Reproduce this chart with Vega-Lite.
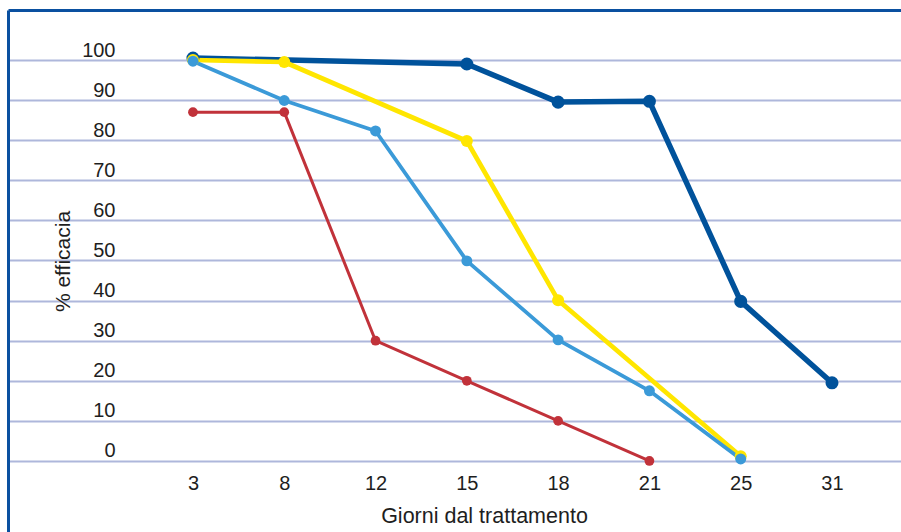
{
  "$schema": "https://vega.github.io/schema/vega-lite/v6.json",
  "width": 893,
  "height": 522,
  "autosize": {"type": "none"},
  "padding": {"left": 8, "top": 10, "right": 0, "bottom": 0},
  "background": "white",
  "config": {
    "view": {"stroke": null},
    "font": "Liberation Sans"
  },
  "data": {
    "values": [
      {"serie": "S1", "giorni": "3", "efficacia": 100.5},
      {"serie": "S1", "giorni": "15", "efficacia": 99},
      {"serie": "S1", "giorni": "18", "efficacia": 89.5},
      {"serie": "S1", "giorni": "21", "efficacia": 89.7},
      {"serie": "S1", "giorni": "25", "efficacia": 39.8},
      {"serie": "S1", "giorni": "31", "efficacia": 19.5},
      {"serie": "S2", "giorni": "3", "efficacia": 100},
      {"serie": "S2", "giorni": "8", "efficacia": 99.5},
      {"serie": "S2", "giorni": "15", "efficacia": 79.8},
      {"serie": "S2", "giorni": "18", "efficacia": 40.1},
      {"serie": "S2", "giorni": "25", "efficacia": 1.2},
      {"serie": "S3", "giorni": "3", "efficacia": 99.7},
      {"serie": "S3", "giorni": "8", "efficacia": 89.9},
      {"serie": "S3", "giorni": "12", "efficacia": 82.3},
      {"serie": "S3", "giorni": "15", "efficacia": 49.9},
      {"serie": "S3", "giorni": "18", "efficacia": 30.2},
      {"serie": "S3", "giorni": "21", "efficacia": 17.5},
      {"serie": "S3", "giorni": "25", "efficacia": 0.5},
      {"serie": "S4", "giorni": "3", "efficacia": 87},
      {"serie": "S4", "giorni": "8", "efficacia": 87},
      {"serie": "S4", "giorni": "12", "efficacia": 30},
      {"serie": "S4", "giorni": "15", "efficacia": 20},
      {"serie": "S4", "giorni": "18", "efficacia": 10},
      {"serie": "S4", "giorni": "21", "efficacia": 0}
    ]
  },
  "encoding": {
    "x": {
      "field": "giorni",
      "type": "ordinal",
      "scale": {
        "type": "point",
        "domain": ["_", "3", "8", "12", "15", "18", "21", "25", "31"],
        "padding": 0.891,
        "align": 0.5758
      },
      "axis": {
        "orient": "top",
        "title": "Giorni dal trattamento",
        "titleFontSize": 21.5,
        "titleFontWeight": "normal",
        "titleColor": "#1e1e1e",
        "titleX": 476,
        "titleY": 506,
        "titleAlign": "center",
        "titleBaseline": "middle",
        "titleAngle": 0,
        "labelExpr": "datum.value === '_' ? '' : datum.label",
        "labelAngle": 0,
        "labelFontSize": 20,
        "labelColor": "#1e1e1e",
        "labelPadding": -473,
        "labelBaseline": "middle",
        "labelAlign": "center",
        "ticks": false,
        "tickSize": 0,
        "grid": false,
        "domain": true,
        "domainColor": "#0a50a0",
        "domainWidth": 3
      }
    },
    "y": {
      "field": "efficacia",
      "type": "quantitative",
      "scale": {"domain": [-17.71, 112.47], "nice": false, "zero": false},
      "axis": {
        "title": "% efficacia",
        "titleFontSize": 21,
        "titleFontWeight": "normal",
        "titleColor": "#1e1e1e",
        "titleX": 55,
        "titleY": 251,
        "titleAngle": -90,
        "titleAlign": "center",
        "titleBaseline": "middle",
        "values": [0, 10, 20, 30, 40, 50, 60, 70, 80, 90, 100],
        "labelFontSize": 20,
        "labelColor": "#1e1e1e",
        "labelPadding": -107,
        "labelAlign": "right",
        "labelBaseline": "middle",
        "labelOffset": -10,
        "ticks": false,
        "tickSize": 0,
        "grid": true,
        "gridColor": "#aeb7db",
        "gridWidth": 2,
        "domain": true,
        "domainColor": "#0a50a0",
        "domainWidth": 3
      }
    },
    "color": {
      "field": "serie",
      "type": "nominal",
      "scale": {"domain": ["S1", "S2", "S3", "S4"], "range": ["#00529b", "#ffe600", "#3b9ad8", "#c1323a"]},
      "legend": null
    }
  },
  "layer": [
    {
      "mark": {"type": "line", "strokeJoin": "round", "strokeCap": "round"},
      "encoding": {
        "strokeWidth": {
          "field": "serie",
          "type": "nominal",
          "scale": {"domain": ["S1", "S2", "S3", "S4"], "range": [5.5, 3, 3, 3]},
          "legend": null
        }
      }
    },
    {
      "mark": {"type": "point", "filled": true, "opacity": 1},
      "encoding": {
        "size": {
          "field": "serie",
          "type": "nominal",
          "scale": {"domain": ["S1", "S2", "S3", "S4"], "range": [170, 95, 95, 90]},
          "legend": null
        }
      }
    }
  ]
}
